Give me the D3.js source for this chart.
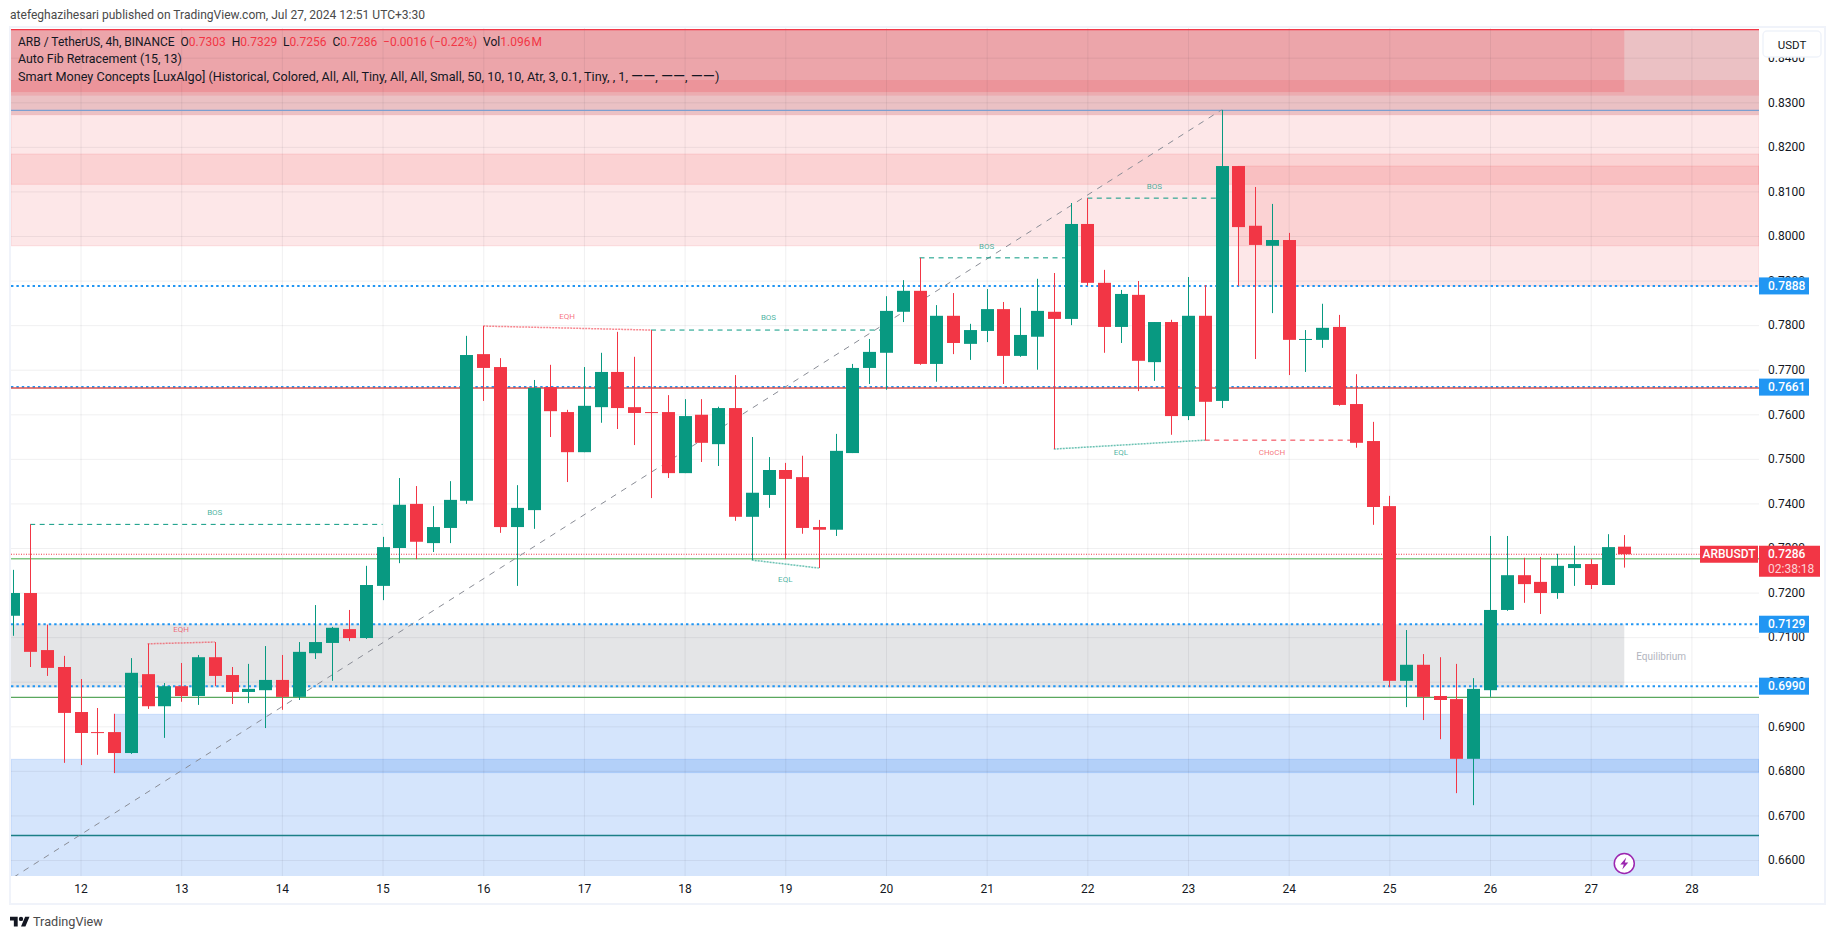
<!DOCTYPE html>
<html>
<head>
<meta charset="utf-8">
<script src="https://cdn.jsdelivr.net/npm/d3@7"></script>
<style>
  body { margin: 0; background: #fff; }
  text { font-family: Roboto, "Noto Sans", sans-serif; }
</style>
</head>
<body>
<svg id="chart" width="1835" height="939"></svg>
<script>
// 4h candles, ARB / USDT
const opens = [.7148,.7199,.7071,.7033,.6932,.6887,.6887,.6840,.7017,.6945,.6990,.6968,.7055,.7015,.6977,.6981,.7004,.6966,.7064,.7087,.7118,.7098,.7215,.7300,.7399,.7311,.7345,.7406,.7735,.7706,.7347,.7385,.7661,.7605,.7515,.7616,.7695,.7616,.7605,.7605,.7468,.7599,.7533,.7614,.7370,.7419,.7475,.7459,.7347,.7341,.7513,.7704,.7738,.7830,.7877,.7713,.7821,.7758,.7787,.7836,.7731,.7774,.7830,.7814,.8027,.7895,.7796,.7868,.7717,.7807,.7596,.7821,.7630,.8157,.8023,.7978,.7991,.7767,.7767,.7796,.7623,.7540,.7394,.7002,.7038,.6968,.6961,.6827,.6981,.7161,.7239,.7224,.7199,.7255,.7264,.7217,.7303];
const highs = [.7251,.7353,.7128,.7058,.7006,.6941,.6928,.7053,.7085,.6997,.7042,.7060,.7089,.7033,.7040,.7080,.7060,.7089,.7172,.7123,.7161,.7260,.7325,.7457,.7439,.7394,.7450,.7776,.7798,.7726,.7441,.7677,.7711,.7610,.7706,.7738,.7785,.7729,.7789,.7643,.7634,.7634,.7617,.7688,.7549,.7504,.7491,.7507,.7363,.7556,.7713,.7769,.7865,.7901,.7951,.7845,.7872,.7803,.7881,.7852,.7839,.7904,.7917,.8074,.8085,.7924,.7879,.7899,.7807,.7812,.7908,.7890,.8283,.8157,.8110,.8072,.8007,.7789,.7848,.7823,.7690,.7583,.7417,.7116,.7062,.7055,.7040,.7008,.7327,.7327,.7278,.7280,.7287,.7305,.7275,.7331,.7329];
const lows = [.7103,.7033,.7013,.6818,.6813,.6836,.6795,.6838,.6939,.6874,.6955,.6948,.6990,.6950,.6952,.6896,.6937,.6959,.7051,.7002,.7091,.7096,.7183,.7266,.7275,.7291,.7311,.7399,.7630,.7334,.7215,.7343,.7549,.7448,.7515,.7581,.7567,.7531,.7412,.7457,.7468,.7493,.7484,.7361,.7273,.7390,.7275,.7332,.7255,.7327,.7513,.7668,.7655,.7807,.7711,.7673,.7735,.7722,.7762,.7668,.7729,.7700,.7522,.7800,.7888,.7738,.7760,.7652,.7675,.7554,.7587,.7542,.7614,.7888,.7724,.7827,.7688,.7695,.7749,.7619,.7525,.7352,.6988,.6943,.6914,.6871,.6750,.6723,.6966,.7159,.7177,.7152,.7186,.7215,.7208,.7217,.7256];
const closes = [.7199,.7067,.7031,.6930,.6885,.6885,.6840,.7020,.6945,.6990,.6968,.7055,.7013,.6977,.6984,.7004,.6966,.7067,.7089,.7121,.7098,.7217,.7302,.7397,.7314,.7347,.7408,.7733,.7704,.7347,.7390,.7659,.7607,.7515,.7619,.7695,.7614,.7603,.7603,.7468,.7596,.7536,.7614,.7370,.7424,.7475,.7455,.7345,.7341,.7518,.7704,.7740,.7832,.7877,.7713,.7821,.7760,.7789,.7836,.7731,.7778,.7832,.7814,.8027,.7895,.7796,.7870,.7720,.7807,.7596,.7821,.7628,.8157,.8020,.7980,.7991,.7767,.7769,.7794,.7621,.7536,.7392,.7002,.7038,.6966,.6959,.6827,.6984,.7161,.7239,.7219,.7199,.7260,.7264,.7217,.7302,.7286];

const dayLabels = [12,13,14,15,16,17,18,19,20,21,22,23,24,25,26,27,28];
const priceTicks = [.66,.67,.68,.69,.70,.71,.72,.73,.74,.75,.76,.77,.78,.79,.80,.81,.82,.83,.84];

// zones: [bar from, bar to, price top, price bottom]  null bar = chart edge
const redZones = [[null,null,.8272,.7978],[null,null,.8184,.8116],[73,null,.8157,.7888]];
const topZone = [null,null,.8463,.8272];
const topBand = [null,null,.8350,.8315];
const premium = [null,96,.8463,.8323];
const equilibrium = [null,96,.7129,.6987];
const blueZones = [[6,null,.6927,.6796],[null,null,.6826,.6400]];

const levelPrices = [.7888,.7661,.7129,.6990];
const lastPrice = .7286;
const fibPoints = [[0,.6561],[72,.8283]];
const bosLines = [[1,22,.7353,.7353],[38,52,.7789,.7789],[54,63,.7951,.7951],[64,72,.8085,.8085]];
const eqhLines = [[8,12,.7085,.7089],[28,38,.7798,.7789]];
const eqlLines = [[44,48,.7273,.7255],[62,71,.7522,.7542]];
const chochLines = [[71,80,.7542,.7542]];
const smcLabels = [
  ['BOS',12,.7379,'up'],['BOS',45,.7818,'up'],['BOS',58,.7976,'up'],['BOS',68,.8111,'up'],
  ['EQH',10,.7117,'dn'],['EQH',33,.7819,'dn'],
  ['EQL',46,.7229,'up'],['EQL',66,.7514,'up'],
  ['CHoCH',75,.7515,'dn']
];

const green = '#089981', red = '#f23645', blue = '#2196f3';
const plotL = 11, plotR = 1759, plotT = 28, plotB = 876;

const svg = d3.select('#chart');

const x = d3.scaleLinear().domain([0,100]).range([13.4,1691.4]);
const y = d3.scaleLinear().domain([.66,.83]).range([860,102.3]);
const xOf = b => b === null ? plotL : x(b);
const xTo = b => b === null ? plotR : x(b);
const dayBars = dayLabels.map((d,k) => 4 + 6*k);

svg.append('defs').append('clipPath').attr('id','plot')
  .append('rect').attr('x',plotL).attr('y',plotT).attr('width',plotR-plotL).attr('height',plotB-plotT);

// frame
svg.append('rect').attr('x',10).attr('y',27).attr('width',1815).attr('height',877)
  .attr('fill','#fff').attr('stroke','#f0f3fa').attr('stroke-width',2);

const plot = svg.append('g').attr('clip-path','url(#plot)');

const zone = (z, fill, stroke) => plot.append('rect')
  .attr('x',xOf(z[0])).attr('y',y(z[2]))
  .attr('width',xTo(z[1])-xOf(z[0])).attr('height',y(z[3])-y(z[2]))
  .attr('fill',fill).attr('stroke',stroke || 'none');

zone(topZone,'rgba(190,50,60,.3)');
zone(topBand,'rgba(242,54,69,.15)');
zone(premium,'rgba(242,54,69,.2)');
redZones.forEach(z => zone(z,'rgba(242,54,69,.12)','rgba(242,54,69,.12)'));
zone(equilibrium,'rgba(120,123,134,.2)');
blueZones.forEach(z => zone(z,'rgba(33,115,240,.19)','rgba(33,115,240,.15)'));

// grid sits above the zones here, it darkens them like on the original
plot.append('g').attr('transform',`translate(${plotL},0)`)
  .call(d3.axisRight(y).tickValues(priceTicks).tickSize(plotR-plotL).tickFormat(''))
  .call(g => g.select('.domain').remove())
  .selectAll('line').attr('stroke','rgba(42,46,57,.07)');
plot.append('g').attr('transform',`translate(0,${plotB})`)
  .call(d3.axisTop(x).tickValues(dayBars).tickSize(plotB-plotT).tickFormat(''))
  .call(g => g.select('.domain').remove())
  .selectAll('line').attr('stroke','rgba(42,46,57,.07)');

const hline = (p, color, w, dash) => plot.append('line')
  .attr('x1',plotL).attr('x2',plotR).attr('y1',y(p)).attr('y2',y(p))
  .attr('stroke',color).attr('stroke-width',w).attr('stroke-dasharray',dash || null);

hline(.8463,red,1.2);
hline(.8282,'#7c9fd0',1.2);
hline(.7276,'#81c784',1.5);
hline(.6965,'#5aa75e',1.2);
hline(.6655,'#1b7f86',1.3);
levelPrices.forEach(p => hline(p,blue,2,'2.4 3'));
hline(.7659,'#d9534f',1.5);
plot.append('line').attr('x1',plotL).attr('x2',1700).attr('y1',y(lastPrice)).attr('y2',y(lastPrice))
  .attr('stroke',red).attr('stroke-width',1.2).attr('stroke-dasharray','1 1.5');

// fib trend line
plot.append('path').datum(fibPoints)
  .attr('d',d3.line().x(d => x(d[0])).y(d => y(d[1])))
  .attr('fill','none').attr('stroke','#8a8d96').attr('stroke-width',1).attr('stroke-dasharray','6 6');

const smc = (rows, color, w, dash) => plot.selectAll(null).data(rows).enter().append('line')
  .attr('x1',d => x(d[0])).attr('x2',d => x(d[1]))
  .attr('y1',d => y(d[2])).attr('y2',d => y(d[3]))
  .attr('stroke',color).attr('stroke-width',w).attr('stroke-dasharray',dash);

smc(bosLines,green,1,'5 4.5');
smc(chochLines,red,1,'5 4.5');
smc(eqhLines,'rgba(242,54,69,.6)',1.5,'2 1');
smc(eqlLines,'rgba(8,153,129,.6)',1.5,'2 1');

plot.selectAll(null).data(smcLabels).enter().append('text')
  .attr('x',d => x(d[1])).attr('y',d => y(d[2]))
  .attr('text-anchor','middle').attr('dominant-baseline','central')
  .attr('font-size',8)
  .attr('fill',d => d[3] === 'up' ? 'rgba(8,153,129,.75)' : 'rgba(242,54,69,.7)')
  .text(d => d[0]);

plot.append('text').attr('x',x(98.2)).attr('y',y(.7056))
  .attr('text-anchor','middle').attr('dominant-baseline','central')
  .attr('font-size',10).attr('fill','#b2b5be').text('Equilibrium');

// candles
const bars = d3.range(opens.length);
const colorOf = i => closes[i] >= opens[i] ? green : red;
plot.selectAll('.wick').data(bars).enter().append('line')
  .attr('class','wick')
  .attr('x1',i => Math.round(x(i))+.5).attr('x2',i => Math.round(x(i))+.5)
  .attr('y1',i => y(highs[i])).attr('y2',i => y(lows[i]))
  .attr('stroke',colorOf).attr('stroke-width',1);
plot.selectAll('.body').data(bars).enter().append('rect')
  .attr('class','body')
  .attr('x',i => Math.round(x(i))-6)
  .attr('width',13)
  .attr('y',i => y(Math.max(opens[i],closes[i])))
  .attr('height',i => Math.max(1,Math.abs(y(opens[i])-y(closes[i]))))
  .attr('fill',colorOf);

// axes
const yAxis = svg.append('g').attr('transform',`translate(${plotR},0)`)
  .call(d3.axisRight(y).tickValues(priceTicks).tickSize(0).tickPadding(9).tickFormat(d3.format('.4f')));
yAxis.select('.domain').remove();
yAxis.selectAll('text').attr('font-size',12).attr('fill','#131722').style('font-family','Roboto');

const xAxis = svg.append('g').attr('transform',`translate(0,${plotB})`)
  .call(d3.axisBottom(x).tickValues(dayBars).tickSize(0).tickPadding(8).tickFormat((d,k) => dayLabels[k]));
xAxis.select('.domain').remove();
xAxis.selectAll('text').attr('font-size',12).attr('fill','#131722').style('font-family','Roboto');

// price labels on the axis
levelPrices.forEach(p => {
  svg.append('rect').attr('x',plotR).attr('y',y(p)-8.5).attr('width',50).attr('height',17).attr('fill',blue);
  svg.append('text').attr('x',plotR+9).attr('y',y(p)).attr('dominant-baseline','central')
    .attr('font-size',12).attr('font-weight',500).attr('fill','#fff').text(d3.format('.4f')(p));
});
const ly = y(lastPrice);
svg.append('rect').attr('x',plotR).attr('y',ly-8.5).attr('width',61).attr('height',31).attr('fill',red);
svg.append('text').attr('x',plotR+9).attr('y',ly).attr('dominant-baseline','central')
  .attr('font-size',12).attr('font-weight',500).attr('fill','#fff').text(d3.format('.4f')(lastPrice));
svg.append('text').attr('x',plotR+9).attr('y',ly+15).attr('dominant-baseline','central')
  .attr('font-size',12).attr('fill','#fcd3d6').text('02:38:18');
svg.append('rect').attr('x',1700).attr('y',ly-8.5).attr('width',58).attr('height',17).attr('fill',red);
svg.append('text').attr('x',1729).attr('y',ly).attr('dominant-baseline','central').attr('text-anchor','middle')
  .attr('font-size',12).attr('font-weight',500).attr('fill','#fff').text('ARBUSDT');

// currency button
svg.append('rect').attr('x',1763).attr('y',31).attr('width',58).attr('height',26).attr('rx',4)
  .attr('fill','#fff').attr('stroke','#f0f3fa').attr('stroke-width',1.5);
svg.append('text').attr('x',1792).attr('y',44.5).attr('text-anchor','middle').attr('dominant-baseline','central')
  .attr('font-size',11.5).attr('fill','#131722').text('USDT');

// header and legend
svg.append('text').attr('x',10).attr('y',15).attr('dominant-baseline','central')
  .attr('font-size',12.06).attr('fill','#4a4a4a')
  .text('atefeghazihesari published on TradingView.com, Jul 27, 2024 12:51 UTC+3:30');

const legend = svg.append('text').attr('x',18).attr('y',41.5).attr('dominant-baseline','central')
  .attr('font-size',12).attr('fill','#131722').attr('xml:space','preserve');
[['ARB / TetherUS, 4h, BINANCE  O'],['0.7303',1],['  H'],['0.7329',1],['  L'],['0.7256',1],['  C'],['0.7286',1],
 ['  \u22120.0016 (\u22120.22%)',1],['  Vol'],['1.096\u200aM',1]].forEach(t => {
  legend.append('tspan').attr('fill',t[1] ? red : '#131722').text(t[0]);
});
svg.append('text').attr('x',18).attr('y',59).attr('dominant-baseline','central')
  .attr('font-size',12.36).attr('fill','#131722').text('Auto Fib Retracement (15, 13)');
const smcLine = svg.append('text').attr('x',18).attr('y',76).attr('dominant-baseline','central')
  .attr('font-size',12.66).attr('fill','#131722');
smcLine.append('tspan').text('Smart Money Concepts [LuxAlgo] (Historical, Colored, All, All, Tiny, All, All, Small, 50, 10, 10, Atr, 3, 0.1, Tiny, , 1, ');
['\u2014\u2014, ','\u2014\u2014, ','\u2014\u2014'].forEach(t => {
  smcLine.append('tspan').attr('font-size',15.5).text(t.slice(0,2));
  smcLine.append('tspan').text(t.slice(2));
});
smcLine.append('tspan').text(')');

// lightning badge
const badge = svg.append('g').attr('transform',`translate(${x(96)},863.5)`);
badge.append('circle').attr('r',10).attr('fill','#fff').attr('stroke','#9c27b0').attr('stroke-width',1.5);
badge.append('path').attr('d','M2 -6 L-4 1 L-0.5 1 L-2 6 L4 -1 L0.5 -1 Z').attr('fill','#9c27b0');

// logo
const logo = svg.append('g').attr('transform','translate(10,914.5) scale(.55)').attr('fill','#131722');
logo.append('path').attr('d','M14 22H7V11H0V4h14v18zM28 22h-8l7.5-18h8L28 22z');
logo.append('circle').attr('cx',20).attr('cy',8).attr('r',4);
svg.append('text').attr('x',33).attr('y',921.5).attr('dominant-baseline','central')
  .attr('font-size',12.7).attr('fill','#4a4a4a').text('TradingView');
</script>
</body>
</html>
